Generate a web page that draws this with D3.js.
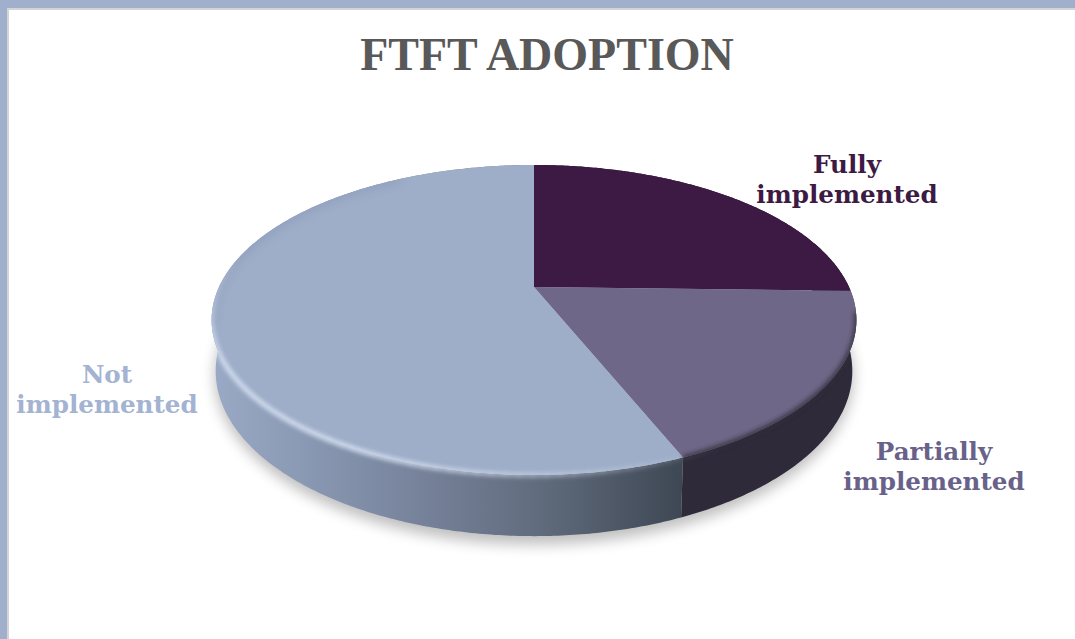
<!DOCTYPE html>
<html>
<head>
<meta charset="utf-8">
<script src="https://d3js.org/d3.v7.min.js"></script>
<style>
html, body { margin: 0; padding: 0; background: #fff; }
svg { display: block; }
text { font-family: "DejaVu Serif", serif; font-weight: bold; text-anchor: middle; }
</style>
</head>
<body>
<svg id="chart" width="1075" height="639"></svg>
<script>
var categories = ["Fully implemented", "Partially implemented", "Not implemented"];
var values = [25.4, 18.4, 56.2];
var faceColors = ["#3c1a43", "#6f6787", "#9eadc8"];
var sideColors = ["#241028", "#2e2a3a", "url(#notSide)"];
var labelColors = ["#3c1a43", "#68628a", "#a3b3d1"];
var labelLines = [["Fully", "implemented"], ["Partially", "implemented"], ["Not", "implemented"]];
var labelSpots = [[847, 173], [934, 460], [107, 383]];

var width = 1075, height = 639;
var svg = d3.select("#chart");

// perspective disc: k pulls the far side in
var k = 0.213;
var topRim = { a: 315, b: 148, y0: 287 };
var bottomRim = { a: 311, b: 157.5, y0: 336 };
var cx = 534;
var deg = Math.PI / 180;

function project(rim, t) {
    var u = Math.sin(t), v = -Math.cos(t);
    var w = 1 - k * v;
    return [cx + rim.a * u / w, rim.y0 + rim.b * v / w];
}
function sample(t0, t1) {
    var n = Math.max(2, Math.ceil((t1 - t0) / 0.01));
    return d3.range(n + 1).map(function (i) { return t0 + (t1 - t0) * i / n; });
}
function arcPoints(rim, t0, t1) {
    return sample(t0, t1).map(function (t) { return project(rim, t); });
}
function wall(t0, t1) {
    return arcPoints(topRim, t0, t1).concat(arcPoints(bottomRim, t0, t1).reverse());
}
var line = d3.line().curve(d3.curveLinear);

var pie = d3.pie().sort(null)(values);

var defs = svg.append("defs");
var grad = defs.append("linearGradient").attr("id", "notSide")
    .attr("gradientUnits", "userSpaceOnUse")
    .attr("x1", 212).attr("x2", 682).attr("y1", 0).attr("y2", 0);
[[0, "#9aaac6"], [0.14, "#8e9eb9"], [0.4, "#7a869f"], [0.68, "#626d7f"], [1, "#3e4854"]].forEach(function (s) {
    grad.append("stop").attr("offset", s[0]).attr("stop-color", s[1]);
});
[["soft", 7], ["bevel", 4], ["bevelThin", 2.2]].forEach(function (f) {
    defs.append("filter").attr("id", f[0])
        .attr("x", "-20%").attr("y", "-20%").attr("width", "140%").attr("height", "140%")
        .append("feGaussianBlur").attr("stdDeviation", f[1]);
});
var discClip = defs.append("clipPath").attr("id", "discClip");
discClip.append("path").attr("d", line(arcPoints(topRim, 0, 2 * Math.PI)) + "Z");
discClip.append("path").attr("d", line(wall(80 * deg, 280 * deg)) + "Z");

// frame
svg.append("rect").attr("width", width).attr("height", height).attr("fill", "#ffffff");
svg.append("rect").attr("x", 7).attr("y", 8).attr("width", width).attr("height", height).attr("fill", "#d4d4d6");
svg.append("rect").attr("x", 9).attr("y", 10).attr("width", width).attr("height", height).attr("fill", "#ffffff");
svg.append("rect").attr("width", width).attr("height", 8).attr("fill", "#a0b0cc");
svg.append("rect").attr("width", 7).attr("height", height).attr("fill", "#a0b0cc");

// shadow under the disc
svg.append("path")
    .attr("d", line(arcPoints({ a: 312, b: 161, y0: 340 }, 0, 2 * Math.PI)) + "Z")
    .attr("fill", "#000").attr("opacity", 0.25).attr("filter", "url(#soft)");

// side walls
var sides = svg.append("g");
pie.forEach(function (d, i) {
    sides.append("path")
        .attr("d", line(wall(d.startAngle, d.endAngle)) + "Z")
        .attr("fill", sideColors[i]);
});

// top faces
var faces = svg.append("g");
pie.forEach(function (d, i) {
    var pts = [[cx, topRim.y0]].concat(arcPoints(topRim, d.startAngle, d.endAngle));
    faces.append("path")
        .attr("d", line(pts) + "Z")
        .attr("fill", faceColors[i]);
});

// bevel along the rim, everything clipped to the disc outline
var bevel = svg.append("g").attr("clip-path", "url(#discClip)");
bevel.append("path")
    .attr("d", line(arcPoints(topRim, 255 * deg, 330 * deg)))
    .attr("fill", "none").attr("stroke", "#7f90b0").attr("stroke-width", 6)
    .attr("opacity", 0.5).attr("filter", "url(#bevel)");

// highlight fades out at both ends
var glow = bevel.append("g").attr("filter", "url(#bevelThin)");
d3.range(150, 282, 2).forEach(function (a) {
    var f = a < 205 ? (a - 150) / 55 : a < 240 ? 1 : (282 - a) / 42;
    glow.append("path")
        .attr("d", line(arcPoints(topRim, a * deg, (a + 2.2) * deg)))
        .attr("fill", "none").attr("stroke", "#d3deef").attr("stroke-width", 5)
        .attr("opacity", 0.95 * f);
});

var darkRim = pie[1];
bevel.append("g").attr("filter", "url(#bevelThin)")
    .append("path")
    .attr("d", line(arcPoints(topRim, darkRim.startAngle + 8 * deg, darkRim.endAngle)))
    .attr("fill", "none").attr("stroke", "#2e2a3a").attr("stroke-width", 5)
    .attr("opacity", 0.8);

// title and labels
svg.append("text").attr("x", 547).attr("y", 70)
    .style("font-family", "'Liberation Serif', serif")
    .style("font-size", "46px").attr("fill", "#595959")
    .text("FTFT ADOPTION");

categories.forEach(function (c, i) {
    var t = svg.append("text")
        .attr("fill", labelColors[i])
        .style("font-size", "24.6px")
        .attr("aria-label", c);
    labelLines[i].forEach(function (s, j) {
        t.append("tspan").attr("x", labelSpots[i][0]).attr("y", labelSpots[i][1] + j * 30).text(s);
    });
});
</script>
</body>
</html>
